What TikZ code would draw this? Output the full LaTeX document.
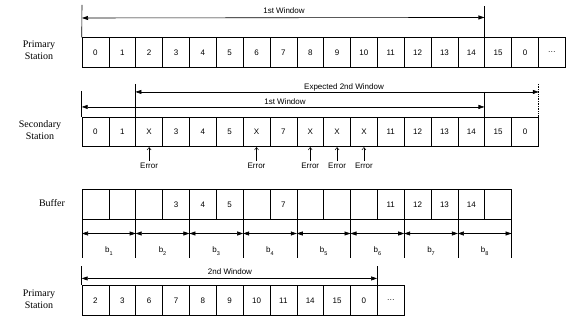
\documentclass[tikz,border=0pt]{standalone}
\usepackage{fontspec}
\setmainfont{Liberation Sans}
\newfontfamily\serifface{Liberation Serif}
\usetikzlibrary{arrows.meta,calc}
\begin{document}
\begin{tikzpicture}[x=1pt,y=-1pt,line width=0.6pt,
  cell/.style={draw, minimum width=26.85pt, minimum height=29.5pt, inner sep=0pt, font=\fontsize{8}{9}\selectfont},
  win/.style={{Triangle[length=6pt,width=4pt]}-{Triangle[length=6pt,width=4pt]}},
  lbl/.style={font=\fontsize{8}{9}\selectfont, inner sep=0pt},
  side/.style={font=\serifface\fontsize{10}{12.5}\selectfont, align=center, inner sep=0pt},
  errarrow/.style={-{Straight Barb[length=2.5pt,width=4pt]}, line width=0.5pt}]
\useasboundingbox (0,0) rectangle (566,320);
\fill[white] (0,0) rectangle (566,320);

% ---------- Row 1: primary station ----------
\node[side] (ps1) at (39,50) {Primary\\Station};
\foreach \t [count=\i from 0] in {0,1,2,3,4,5,6,7,8,9,10,11,12,13,14,15,0}
  \node[cell] (p\i) at ({82+(\i+0.5)*26.85},52.5) {\t};
\node[cell] (p17) at ({82+17.5*26.85},52.5) {\ldots};
\coordinate (p1top) at (82,5);
\coordinate (p1r) at ($(p15.north west)+(0,-31)$);
\draw (p1top) -- (p0.north west);
\draw (p1r) -- (p15.north west);
\coordinate (a1l) at (82,18);
\coordinate (a1r) at ($(p15.north west)+(0,-20)$);
\draw[win] (a1l) -- (a1r);
\node[lbl] (l1) at (284,11) {1st Window};

% ---------- Row 2: secondary station ----------
\node[side] (ss) at (40,130) {Secondary\\Station};
\foreach \t [count=\i from 0] in {0,1,X,3,4,5,X,7,X,X,X,11,12,13,14,15,0}
  \node[cell] (s\i) at ({82+(\i+0.5)*26.85},132) {\t};
\coordinate (s2top) at ($(s0.north west)+(0,-26)$);
\draw (s2top) -- (s0.north west);
\coordinate (sthick) at ($(s2.north west)+(0,-33)$);
\draw[line width=1.3pt] (sthick) -- (s2.north west);
\coordinate (sdot) at ($(s16.north east)+(0,-33)$);
\draw[densely dotted, line width=0.7pt] (sdot) -- (s16.north east);
\coordinate (s15top) at ($(s15.north west)+(0,-25)$);
\draw (s15top) -- (s15.north west);
\coordinate (e2l) at ($(s2.north west)+(0,-25)$);
\coordinate (e2r) at ($(s16.north east)+(0,-25)$);
\draw[win] (e2l) -- (e2r);
\node[lbl] (l2) at (344,87) {Expected 2nd Window};
\coordinate (f1l) at ($(s0.north west)+(0,-10)$);
\coordinate (f1r) at ($(s15.north west)+(0,-10)$);
\draw[win] (f1l) -- (f1r);
\node[lbl] (l3) at (285,101.5) {1st Window};
\foreach \i in {2,6,8,9,10} {
  \node[lbl] (e\i) at ($(s\i.south)+(0,19)$) {Error};
  \draw[errarrow] ($(e\i.north)+(0,-2)$) -- (s\i.south);
}

% ---------- Row 3: buffer ----------
\node[side] (buf) at (52,203) {Buffer};
\foreach \t [count=\i from 0] in {{},{},{},3,4,5,{},7,{},{},{},11,12,13,14,{}}
  \node[cell] (b\i) at ({82+(\i+0.5)*26.85},204.5) {\t};
\foreach \k in {0,...,8} {
  \coordinate (bt\k) at ({82+2*\k*26.85},219.25);
  \coordinate (bb\k) at ({82+2*\k*26.85},258);
  \coordinate (bm\k) at ({82+2*\k*26.85},233.5);
  \draw (bt\k) -- (bb\k);
}
\foreach \k [evaluate=\k as \n using int(\k+1)] in {0,...,7} {
  \draw[win] (bm\k) -- (bm\n);
  \node[lbl] (bl\n) at ({82+(2*\k+1)*26.85},251) {b\raisebox{-2.5pt}{\fontsize{5.5}{6}\selectfont\n}};
}

% ---------- Row 4: primary station, second window ----------
\node[side] (ps2) at (39,299) {Primary\\Station};
\foreach \t [count=\i from 0] in {2,3,6,7,8,9,10,11,14,15,0}
  \node[cell] (q\i) at ({82+(\i+0.5)*26.85},300.5) {\t};
\node[cell] (q11) at ({82+11.5*26.85},300.5) {\ldots};
\coordinate (q4top) at ($(q0.north west)+(0,-19)$);
\draw (q4top) -- (q0.north west);
\coordinate (q4r) at ($(q11.north west)+(0,-19)$);
\draw (q4r) -- (q11.north west);
\coordinate (g1l) at ($(q0.north west)+(0,-7)$);
\coordinate (g1r) at ($(q11.north west)+(0,-7)$);
\draw[win] (g1l) -- (g1r);
\node[lbl] (l4) at (230,272) {2nd Window};
\end{tikzpicture}
\end{document}
